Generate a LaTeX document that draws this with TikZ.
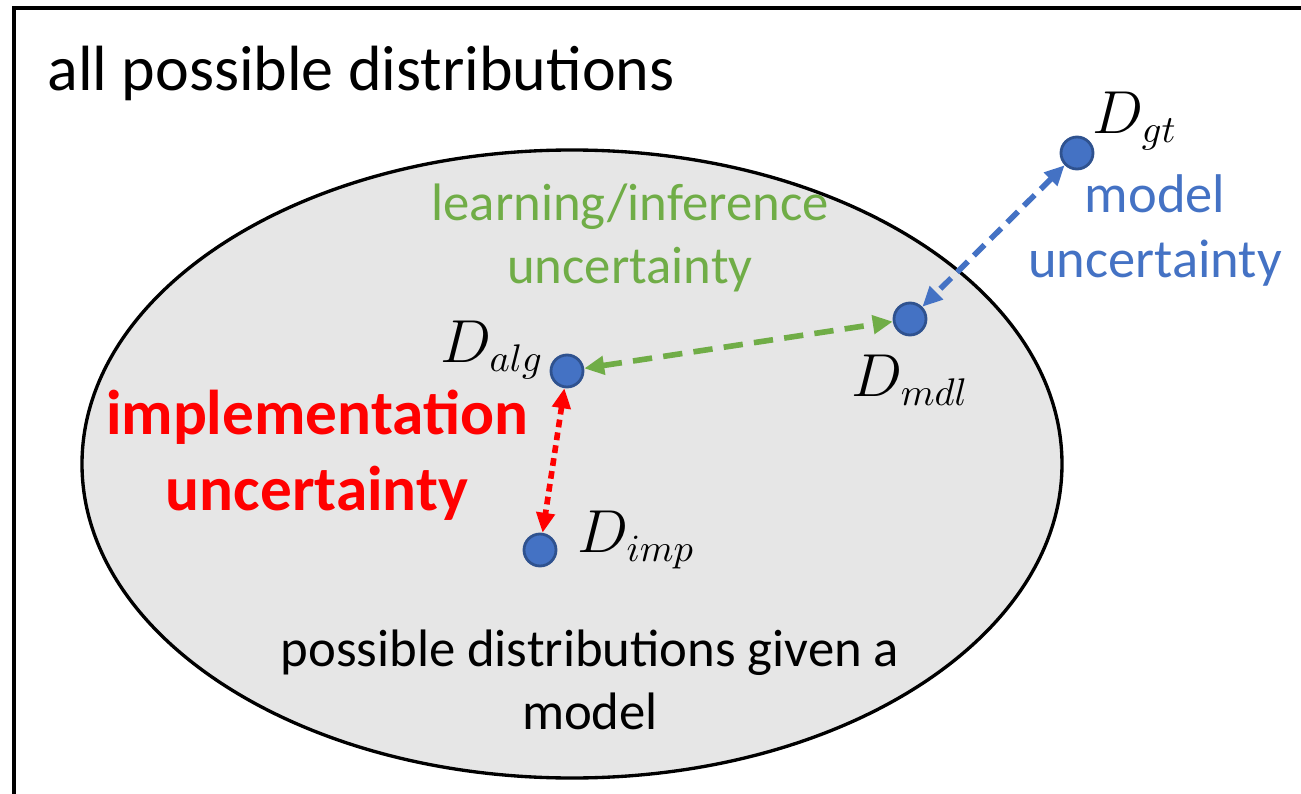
\documentclass[tikz,border=0pt]{standalone}
\usepackage{fontspec}
\setmainfont{Carlito}
\usetikzlibrary{arrows.meta,positioning}
\definecolor{dotblue}{RGB}{68,114,196}
\definecolor{dotedge}{RGB}{47,82,143}
\definecolor{learngreen}{RGB}{112,173,71}
\definecolor{lightgray}{RGB}{230,230,230}

\begin{document}
\begin{tikzpicture}[
  dist/.style={circle, fill=dotblue, draw=dotedge, line width=0.8pt, minimum size=0.32cm, inner sep=0pt},
  dlabel/.style={font=\fontsize{16}{16}\selectfont},
  textlabel/.style={font=\fontsize{15.5}{18.5}\selectfont, align=center},
  arrow/.style={{Triangle[length=0.2cm, width=0.18cm]}-{Triangle[length=0.2cm, width=0.18cm]}, line width=1.6pt}
]
\useasboundingbox (0,0) rectangle (13.01,7.93);
\clip (0,0) rectangle (13.01,7.93);

% outer frame and model set
\draw[line width=0.9pt] (0.14,-0.5) rectangle (13.5,7.85);
\draw[line width=0.95pt, fill=lightgray] (5.72,3.29) ellipse [x radius=4.90, y radius=3.14];

% distributions
\node[dist] (Dgt) at (10.77,6.40) {};
\node[dist] (Dmdl) at (9.10,4.74) {};
\node[dist] (Dalg) at (5.67,4.22) {};
\node[dist] (Dimp) at (5.40,2.43) {};

\node[dlabel] (Lgt) at (11.35,6.72) {$D_{gt}$};
\node[dlabel] (Lmdl) at (9.10,4.13) {$D_{mdl}$};
\node[dlabel] (Lalg) at (4.92,4.43) {$D_{alg}$};
\node[dlabel] (Limp) at (6.36,2.53) {$D_{imp}$};

% texts
\node[font=\fontsize{18.2}{22}\selectfont, anchor=base west] (all) at (0.35,7.03) {all possible distributions};
\node[textlabel, text=learngreen, font=\fontsize{15}{18}\selectfont] (learn) at (6.30,5.55) {learning/inference\\uncertainty};
\node[textlabel, text=dotblue] (model) at (11.55,5.63) {model\\uncertainty};
\node[textlabel, text=red, font=\fontsize{18}{21.5}\selectfont\bfseries] (impl) at (3.17,3.38) {implementation\\uncertainty};
\node[textlabel, font=\fontsize{15}{18}\selectfont] (given) at (5.90,1.13) {possible distributions given a\\model};

% uncertainties
\draw[arrow, dotblue, dash pattern=on 4.3pt off 2.4pt] (Dgt) -- (Dmdl);
\draw[arrow, learngreen, dash pattern=on 5.5pt off 3.2pt] (Dalg) -- (Dmdl);
\draw[arrow, red, dash pattern=on 2.2pt off 1.5pt] (Dalg) -- (Dimp);

\end{tikzpicture}
\end{document}
